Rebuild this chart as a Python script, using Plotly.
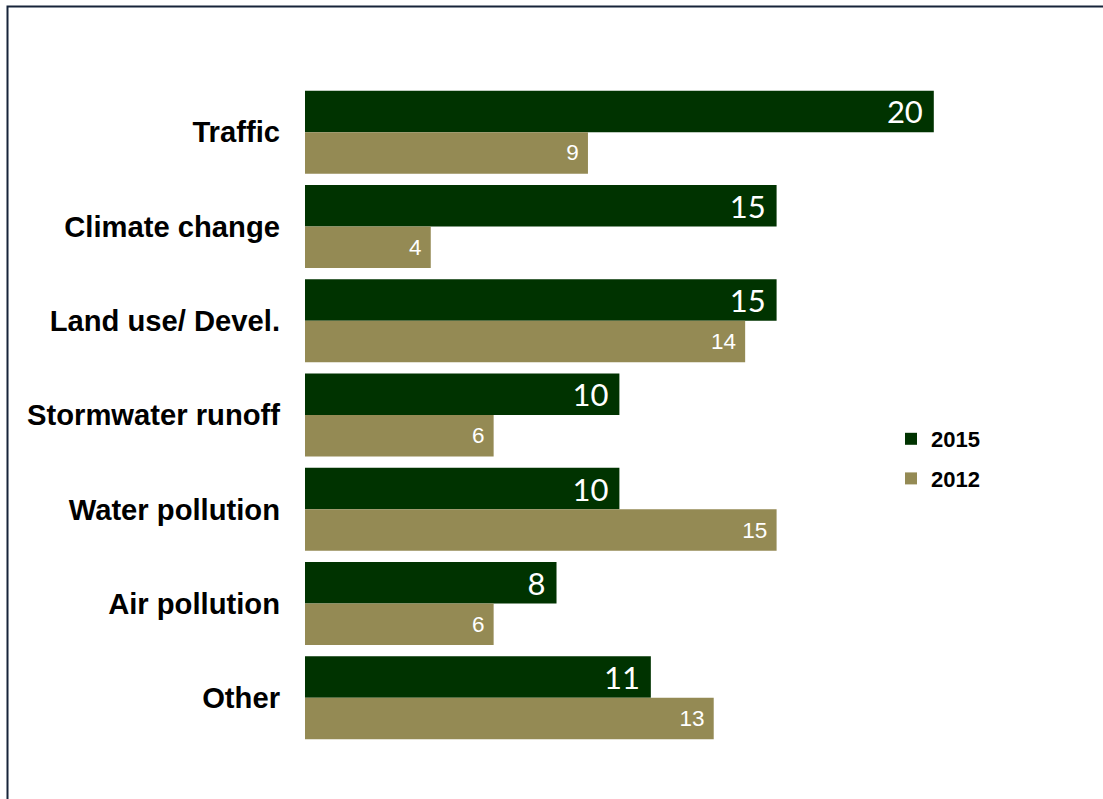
import plotly.graph_objects as go

# Categories and survey values
categories = ["Traffic", "Climate change", "Land use/ Devel.", "Stormwater runoff",
              "Water pollution", "Air pollution", "Other"]
values_2015 = [20, 15, 15, 10, 10, 8, 11]
values_2012 = [9, 4, 14, 6, 15, 6, 13]
series_names = ["2015", "2012"]

W, H = 1103, 799
ML, MR, MT, MB = 305, 12, 85, 54
X_MAX = 25

GREEN = "#003300"
OLIVE = "#948A54"

fig = go.Figure()
fig.add_trace(go.Bar(
    y=categories, x=values_2015, name=series_names[0], orientation="h",
    marker=dict(color=GREEN, line=dict(width=0)),
    text=[f"{v}\u00a0" for v in values_2015], textposition="inside",
    insidetextanchor="end", constraintext="none", textangle=0,
    textfont=dict(family="Lato", size=31, color="white"),
    legendgroup="a", hoverinfo="skip",
))
fig.add_trace(go.Bar(
    y=categories, x=values_2012, name=series_names[1], orientation="h",
    marker=dict(color=OLIVE, line=dict(width=0)),
    text=[f"{v}\u00a0" for v in values_2012], textposition="inside",
    insidetextanchor="end", constraintext="none", textangle=0,
    textfont=dict(family="Liberation Sans", size=22.5, color="white"),
    legendgroup="b", hoverinfo="skip",
))

plot_w = W - ML - MR
plot_h = H - MT - MB

def px_to_paper_x(px):
    return (px - ML) / plot_w

def px_to_paper_y(py):
    return (H - MB - py) / plot_h

# Outer frame (runs past the right and bottom edges of the page)
fig.add_shape(type="rect", xref="paper", yref="paper",
              x0=px_to_paper_x(7.5), x1=px_to_paper_x(W + 20),
              y0=px_to_paper_y(H + 20), y1=px_to_paper_y(6.5),
              line=dict(color="#17243A", width=2), fillcolor="rgba(0,0,0,0)",
              layer="below")

fig.update_layout(
    width=W, height=H,
    margin=dict(l=ML, r=MR, t=MT, b=MB, pad=0),
    paper_bgcolor="white", plot_bgcolor="white",
    barmode="group", bargap=0.12, bargroupgap=0,
    font=dict(family="Liberation Sans", color="black"),
    xaxis=dict(range=[0, X_MAX], visible=False, fixedrange=True),
    yaxis=dict(autorange="reversed", showgrid=False, zeroline=False, showline=False,
               ticks="", ticklabelstandoff=24,
               tickfont=dict(family="Liberation Sans", size=29.2, color="black",
                             weight="bold")),
    legend=dict(x=px_to_paper_x(891), y=px_to_paper_y(418), xanchor="left", yanchor="top",
                bgcolor="rgba(0,0,0,0)", tracegroupgap=8,
                font=dict(family="Liberation Sans", size=22, color="black", weight="bold")),
    showlegend=True,
)

fig.write_html("out.html")
